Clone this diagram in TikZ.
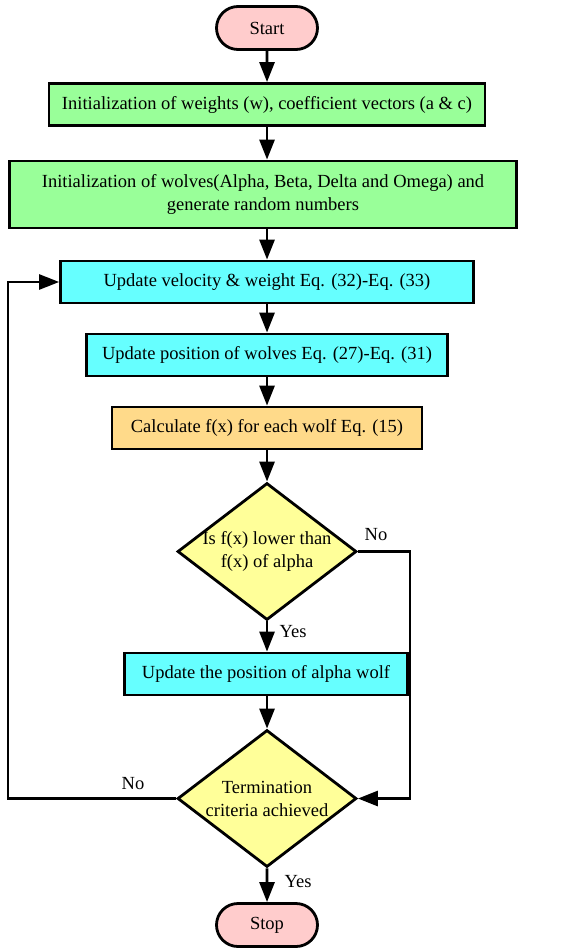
\documentclass[tikz,border=0pt]{standalone}
\usepackage{fontspec}
\setmainfont{Liberation Serif}
\usetikzlibrary{shapes.geometric,shapes.misc,arrows.meta}

\definecolor{termpink}{HTML}{FFCCCC}
\definecolor{initgreen}{HTML}{99FF99}
\definecolor{updcyan}{HTML}{66FFFF}
\definecolor{calcorange}{HTML}{FFDA8A}
\definecolor{decyellow}{HTML}{FFFF99}

\begin{document}
\begin{tikzpicture}[x=1pt,y=-1pt,line width=2.8pt,
	font=\fontsize{18.5}{23}\selectfont,
	term/.style={draw,rounded rectangle,fill=termpink,minimum width=101pt,minimum height=43pt,inner sep=0pt},
	box/.style={draw,rectangle,minimum height=42pt,inner sep=0pt,align=center},
	dec/.style={draw,diamond,fill=decyellow,minimum width=179pt,minimum height=137pt,inner sep=0pt},
	arr/.style={-{Triangle[length=20pt,width=15pt]}}]
	\useasboundingbox (0,0) rectangle (562,949);
	\def\m{267} %main axis

	%NODES
	\node[term] (start) at (\m,28) {Start};
	\node[box,fill=initgreen,minimum width=436pt] (init1) at (\m,104.5) {Initialization of weights (w), coefficient vectors (a \& c)};
	\node[box,fill=initgreen,minimum width=507pt,minimum height=67pt] (init2) at (263,194.5) {Initialization of wolves(Alpha, Beta, Delta and Omega) and\\generate random numbers};
	\node[box,fill=updcyan,minimum width=413pt] (upd1) at (\m,282) {Update velocity \& weight Eq. (32)-Eq. (33)};
	\node[box,fill=updcyan,minimum width=361pt] (upd2) at (\m,355) {Update position of wolves Eq. (27)-Eq. (31)};
	\node[box,fill=calcorange,minimum width=310pt] (calc) at (\m,428) {Calculate f(x) for each wolf Eq. (15)};
	\node[dec,label={[align=center]center:Is f(x) lower than\\f(x) of alpha}] (dec1) at (\m,551.5) {};
	\node[box,fill=updcyan,minimum width=283pt] (upd3) at (266,674) {Update the position of alpha wolf};
	\node[dec,label={[align=center]center:Termination\\criteria achieved}] (dec2) at (\m,798.5) {};
	\node[term] (stop) at (\m,925) {Stop};

	%BEND POINTS
	\coordinate (lft) at (8,0);
	\coordinate (rgt) at (410,0);

	%CONNECTORS
	\draw[arr] (start) -- (init1);
	\draw[arr] (init1.south) -- (init1.south |- init2.north);
	\draw[arr] (init1.south |- init2.south) -- (upd1.north);
	\draw[arr] (upd1) -- (upd2);
	\draw[arr] (upd2) -- (calc);
	\draw[arr] (calc) -- (dec1);
	\draw[arr] (dec1) -- (upd3.north -| dec1.south);
	\draw[arr] (upd3.south -| dec1.south) -- (dec2);
	\draw[arr] (dec2) -- (stop);
	\draw[arr] (dec2.west) -- (dec2.west -| lft) |- (upd1.west);
	\draw[arr] (dec1.east) -- (dec1.east -| rgt) |- (dec2.east);

	%BRANCH LABELS
	\node (no1) at (376,535) {No};
	\node (yes1) at (293,632) {Yes};
	\node (no2) at (133,784) {No};
	\node (yes2) at (298,882) {Yes};
\end{tikzpicture}
\end{document}
